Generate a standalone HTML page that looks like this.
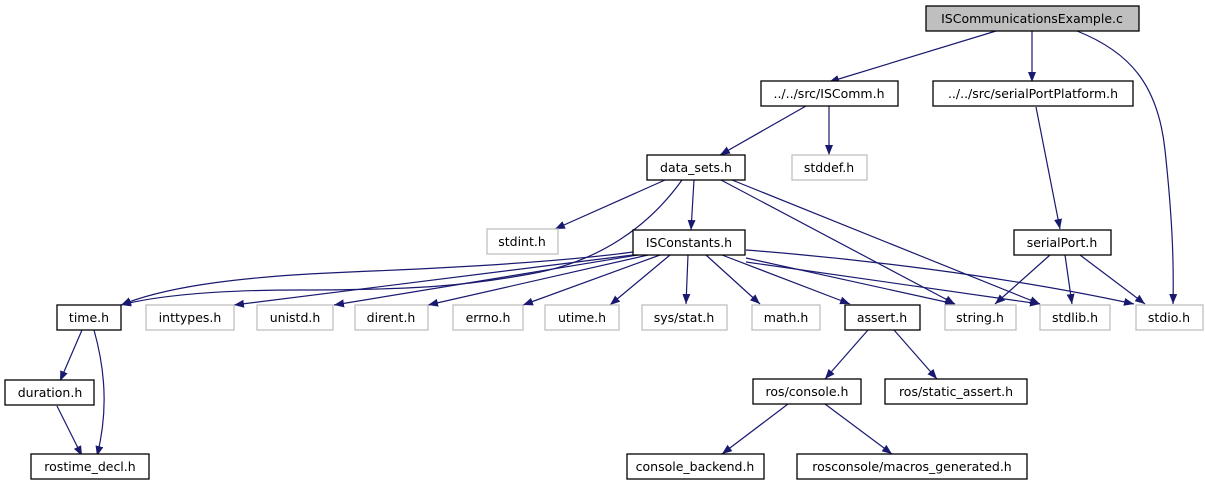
<!DOCTYPE html>
<html><head><meta charset="utf-8"><style>
html,body{margin:0;padding:0;background:#fff;width:1205px;height:485px;overflow:hidden}
svg text{font-family:"DejaVu Sans","Liberation Sans",sans-serif;font-size:12.5px;fill:#000}
</style></head><body>
<svg width="1205" height="485" viewBox="0 0 1205 485" xmlns="http://www.w3.org/2000/svg">
<defs><marker id="a" viewBox="0 0 10 10" refX="10" refY="5" markerWidth="10" markerHeight="10" markerUnits="userSpaceOnUse" orient="auto"><path d="M0,1 L10,5 L0,9 z" fill="#191970"/></marker></defs>
<g fill="none" stroke="#191970" stroke-width="1.2" marker-end="url(#a)">
<path d="M996,31 L829,82"/>
<path d="M1032,31 L1032,82"/>
<path d="M1077,31 C1130,52 1158,85 1165,150 C1172,215 1174,260 1173,304"/>
<path d="M806,106 L720,155"/>
<path d="M829,106 L829,155"/>
<path d="M665,180 L555,229"/>
<path d="M682,180 C650,225 600,262 530,274 C470,285 420,290 300,290 C220,290 160,295 121,305"/>
<path d="M694,180 L691,230"/>
<path d="M721,180 L955,304"/>
<path d="M732,180 L1040,304"/>
<path d="M633,252 C560,262 450,268 350,272 C250,276 170,285 121,305"/>
<path d="M633,255 L234,305"/>
<path d="M638,255 L334,305"/>
<path d="M648,255 L428,305"/>
<path d="M660,255 L523,305"/>
<path d="M670,255 L610,305"/>
<path d="M688,255 L686,304"/>
<path d="M706,255 L760,304"/>
<path d="M722,255 L850,304"/>
<path d="M746,258 L955,304"/>
<path d="M746,262 L1040,304"/>
<path d="M746,250 C850,258 1000,275 1134,304"/>
<path d="M1050,255 L995,304"/>
<path d="M1065,255 L1072,304"/>
<path d="M1080,255 L1145,304"/>
<path d="M1036,107 L1060,229"/>
<path d="M82,330 L60,381"/>
<path d="M94,330 C108,380 106,420 97,456"/>
<path d="M57,406 L82,456"/>
<path d="M868,330 L825,379"/>
<path d="M894,330 L937,379"/>
<path d="M788,404 L722,454"/>
<path d="M825,404 L892,454"/>
</g>
<g stroke-width="1.3" fill="#fff">
<rect x="926" y="6" width="213" height="25" fill="#bfbfbf" stroke="#000"/>
<rect x="761" y="81" width="137" height="25" stroke="#000"/>
<rect x="933" y="81" width="200" height="25" stroke="#000"/>
<rect x="647" y="155" width="98" height="25" stroke="#000"/>
<rect x="792" y="155" width="75" height="25" stroke="#bfbfbf"/>
<rect x="487" y="229" width="71" height="25" stroke="#bfbfbf"/>
<rect x="633" y="230" width="112" height="25" stroke="#000"/>
<rect x="1014" y="230" width="97" height="25" stroke="#000"/>
<rect x="57" y="305" width="64" height="25" stroke="#000"/>
<rect x="146" y="305" width="88" height="25" stroke="#bfbfbf"/>
<rect x="257" y="305" width="76" height="25" stroke="#bfbfbf"/>
<rect x="355" y="305" width="73" height="25" stroke="#bfbfbf"/>
<rect x="453" y="305" width="70" height="25" stroke="#bfbfbf"/>
<rect x="545" y="305" width="74" height="25" stroke="#bfbfbf"/>
<rect x="642" y="305" width="85" height="25" stroke="#bfbfbf"/>
<rect x="752" y="305" width="68" height="25" stroke="#bfbfbf"/>
<rect x="845" y="305" width="75" height="25" stroke="#000"/>
<rect x="945" y="305" width="71" height="25" stroke="#bfbfbf"/>
<rect x="1040" y="305" width="70" height="25" stroke="#bfbfbf"/>
<rect x="1136" y="305" width="67" height="25" stroke="#bfbfbf"/>
<rect x="5" y="380" width="89" height="25" stroke="#000"/>
<rect x="753" y="379" width="108" height="25" stroke="#000"/>
<rect x="885" y="379" width="142" height="25" stroke="#000"/>
<rect x="31" y="454" width="118" height="25" stroke="#000"/>
<rect x="627" y="454" width="137" height="25" stroke="#000"/>
<rect x="797" y="454" width="230" height="25" stroke="#000"/>
</g>
<g text-anchor="middle">
<text x="1032" y="23">ISCommunicationsExample.c</text>
<text x="829" y="98">../../src/ISComm.h</text>
<text x="1033" y="98">../../src/serialPortPlatform.h</text>
<text x="696" y="172">data_sets.h</text>
<text x="829" y="172">stddef.h</text>
<text x="522" y="246">stdint.h</text>
<text x="689" y="247">ISConstants.h</text>
<text x="1062" y="247">serialPort.h</text>
<text x="89" y="322">time.h</text>
<text x="190" y="322">inttypes.h</text>
<text x="295" y="322">unistd.h</text>
<text x="391" y="322">dirent.h</text>
<text x="488" y="322">errno.h</text>
<text x="582" y="322">utime.h</text>
<text x="684" y="322">sys/stat.h</text>
<text x="786" y="322">math.h</text>
<text x="882" y="322">assert.h</text>
<text x="980" y="322">string.h</text>
<text x="1075" y="322">stdlib.h</text>
<text x="1169" y="322">stdio.h</text>
<text x="50" y="397">duration.h</text>
<text x="807" y="396">ros/console.h</text>
<text x="956" y="396">ros/static_assert.h</text>
<text x="90" y="471">rostime_decl.h</text>
<text x="695" y="471">console_backend.h</text>
<text x="912" y="471">rosconsole/macros_generated.h</text>
</g>
</svg>
</body></html>
